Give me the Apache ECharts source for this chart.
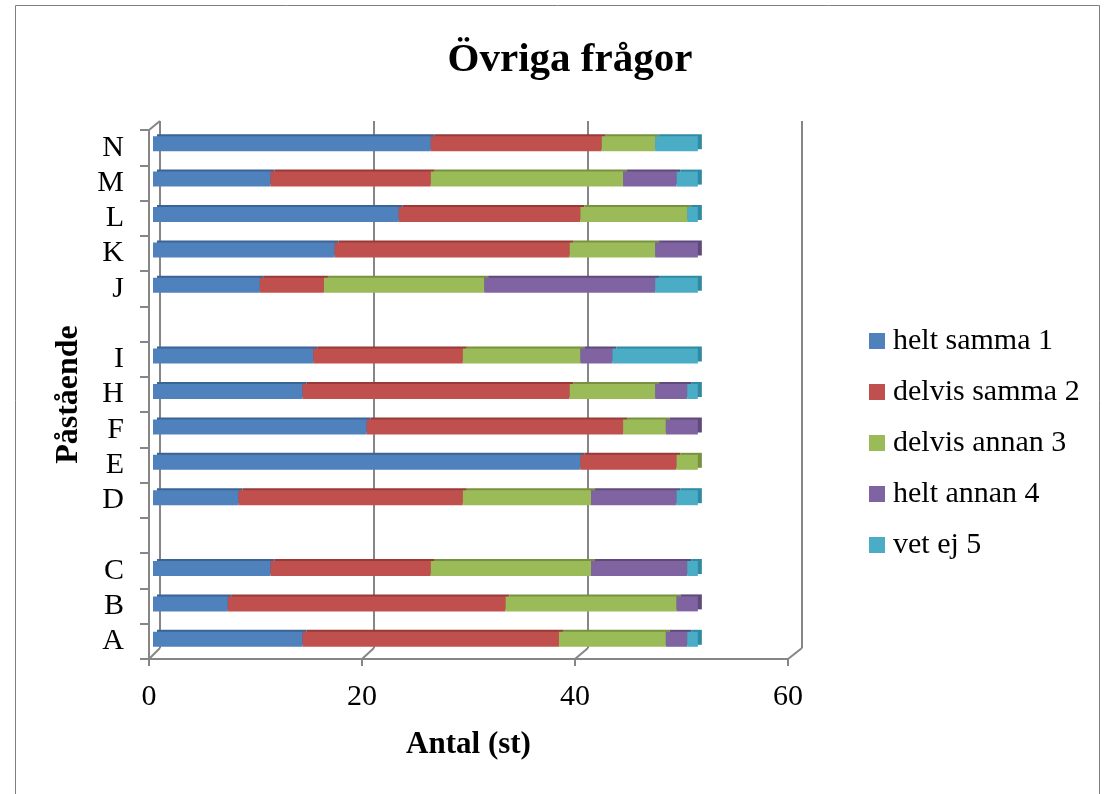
<!DOCTYPE html>
<html>
<head>
<meta charset="utf-8">
<script src="https://cdn.jsdelivr.net/npm/echarts@6/dist/echarts.min.js"></script>
<style>html,body{margin:0;padding:0;background:#fff;}#c{width:1107px;height:794px;}</style>
</head>
<body>
<div id="c"></div>
<script>
// Categories bottom -> top (blank rows are spacer slots)
const categories = ['A', 'B', 'C', ' ', 'D', 'E', 'F', 'H', 'I', '  ', 'J', 'K', 'L', 'M', 'N'];
const seriesNames = ['helt samma 1', 'delvis samma 2', 'delvis annan 3', 'helt annan 4', 'vet ej 5'];
const heltSamma1   = [14,  7, 11, null,  8, 40, 20, 14, 15, null, 10, 17, 23, 11, 26];
const delvisSamma2 = [24, 26, 15, null, 21,  9, 24, 25, 14, null,  6, 22, 17, 15, 16];
const delvisAnnan3 = [10, 16, 15, null, 12,  2,  4,  8, 11, null, 15,  8, 10, 18,  5];
const heltAnnan4   = [ 2,  2,  9, null,  8,  0,  3,  3,  3, null, 16,  4,  0,  5,  0];
const vetEj5       = [ 1,  0,  1, null,  2,  0,  0,  1,  8, null,  4,  0,  1,  2,  4];
const xTicks = [0, 20, 40, 60];

const seriesValues = [heltSamma1, delvisSamma2, delvisAnnan3, heltAnnan4, vetEj5];
const colors = ['#4F81BD', '#C0504D', '#9BBB59', '#8064A2', '#4BACC6'];
const darkColors = ['#3A6396', '#983A37', '#77923F', '#5F4A7B', '#2F8AA3'];
const FONT = '"Liberation Serif", "Times New Roman", serif';
const GRAY = '#868686';

const chart = echarts.init(document.getElementById('c'), null, {renderer: 'canvas'});

const option = {
  backgroundColor: '#fff',
  animation: false,
  color: colors,
  title: {
    text: 'Övriga frågor',
    left: 565, top: 35, textAlign: 'center',
    textStyle: {fontFamily: FONT, fontSize: 41, fontWeight: 'bold', color: '#000'}
  },
  legend: {
    orient: 'vertical',
    left: 864, top: 321,
    itemWidth: 16, itemHeight: 16, itemGap: 21,
    icon: 'rect',
    data: seriesNames,
    textStyle: {fontFamily: FONT, fontSize: 30, color: '#000', lineHeight: 30, padding: [0, 0, 0, 3]}
  },
  grid: [
    // back wall (gridlines)
    {left: 160, right: 305, top: 121, bottom: 146},
    // bars
    {left: 153, right: 313, top: 126, bottom: 137},
    // front axes
    {left: 149, right: 319, top: 130, bottom: 135}
  ],
  xAxis: [
    {gridIndex: 0, type: 'value', min: xTicks[0], max: xTicks[3], interval: 20,
     axisLine: {show: false}, axisTick: {show: false}, axisLabel: {show: false},
     splitLine: {show: true, lineStyle: {color: GRAY, width: 2}}},
    {gridIndex: 1, type: 'value', min: xTicks[0], max: xTicks[3], interval: 20,
     axisLine: {show: false}, axisTick: {show: false}, axisLabel: {show: false}, splitLine: {show: false}},
    {gridIndex: 2, type: 'value', min: xTicks[0], max: xTicks[3], interval: 20,
     axisLine: {show: true, lineStyle: {color: GRAY, width: 2}},
     axisTick: {show: true, inside: false, length: 7, lineStyle: {color: GRAY, width: 2}},
     axisLabel: {show: true, margin: 23, fontFamily: FONT, fontSize: 30, color: '#000'},
     splitLine: {show: false},
     name: 'Antal (st)', nameLocation: 'middle', nameGap: 70,
     nameTextStyle: {fontFamily: FONT, fontSize: 31, fontWeight: 'bold', color: '#000'}}
  ],
  yAxis: [
    {gridIndex: 0, type: 'category', data: categories, show: false},
    {gridIndex: 1, type: 'category', data: categories, show: false},
    {gridIndex: 2, type: 'category', data: categories,
     axisLine: {show: true, lineStyle: {color: GRAY, width: 2}},
     axisTick: {show: true, length: 9, interval: 0, lineStyle: {color: GRAY, width: 2}},
     axisLabel: {show: true, interval: 0, margin: 25, fontFamily: FONT, fontSize: 30, color: '#000', padding: [7, 0, 0, 0]},
     splitLine: {show: false},
     name: 'Påstående', nameLocation: 'middle', nameGap: 64, nameRotate: 90,
     nameTextStyle: {fontFamily: FONT, fontSize: 32, fontWeight: 'bold', color: '#000'}}
  ],
  series: seriesNames.map((name, i) => ({
    name: name,
    type: 'bar',
    stack: 'total',
    xAxisIndex: 1, yAxisIndex: 1,
    barWidth: 15,
    data: seriesValues[i],
    itemStyle: {color: colors[i], shadowColor: darkColors[i], shadowBlur: 0, shadowOffsetX: 4, shadowOffsetY: -2}
  }))
};
chart.setOption(option);

// decorative 3D frame connectors (front axis -> back wall), located via axis scales
const frontPt = v => chart.convertToPixel({xAxisIndex: 2, yAxisIndex: 2}, [v, 0]);
const backPt = v => chart.convertToPixel({xAxisIndex: 0, yAxisIndex: 0}, [v, 0]);
const g = [];
const frontY = 794 - 135, backY = 794 - 146;
xTicks.forEach(v => {
  const f = frontPt(v)[0], b = backPt(v)[0];
  g.push({type: 'line', shape: {x1: f, y1: frontY, x2: b, y2: backY}, style: {stroke: GRAY, lineWidth: 2}, z: 1});
});
g.push({type: 'line', shape: {x1: frontPt(0)[0], y1: 130, x2: backPt(0)[0], y2: 121}, style: {stroke: GRAY, lineWidth: 2}, z: 1});
g.push({type: 'rect', shape: {x: 15.5, y: 5.5, width: 1084, height: 800}, style: {fill: null, stroke: '#7f7f7f', lineWidth: 1}, z: 0});
chart.setOption({graphic: g});
</script>
</body>
</html>
